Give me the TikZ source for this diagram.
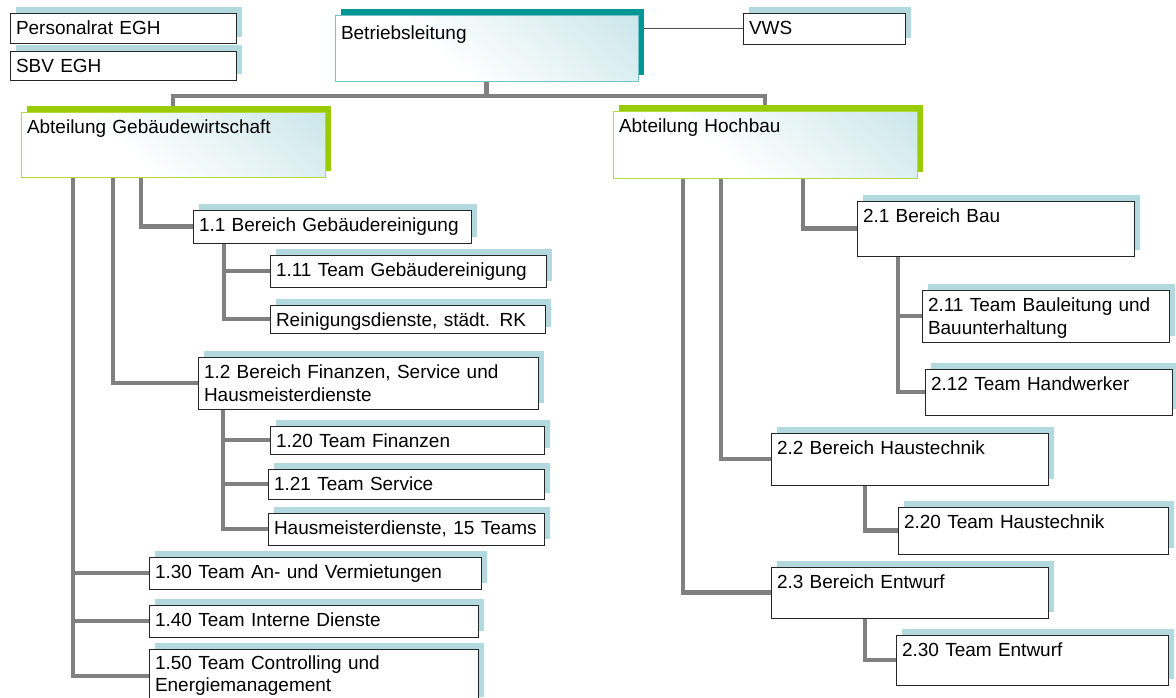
\documentclass[tikz,border=0pt]{standalone}
\usepackage{fontspec}
\setmainfont{Liberation Sans}
\usetikzlibrary{shadows,backgrounds,calc}

\definecolor{lineGray}{RGB}{128,128,128}
\definecolor{shadowTeal}{RGB}{178,218,222}
\definecolor{headTeal}{RGB}{0,150,150}
\definecolor{headGreen}{RGB}{153,204,0}
\definecolor{fillTeal}{RGB}{186,223,228}
\pgfdeclareverticalshading{headshade}{100bp}{color(0bp)=(white); color(40bp)=(white); color(100bp)=(fillTeal)}

\begin{document}
\begin{tikzpicture}[
    x=0.025cm, y=-0.025cm,
    box/.style={rectangle, anchor=north west, align=left, inner xsep=0.15cm, inner ysep=0pt, outer sep=0pt, text height=0.525cm, font=\fontsize{13.5}{16.8}\selectfont, line width=0.6pt},
    unit/.style={box, draw=black!85, fill=white, general shadow={shadow xshift=0.15cm, shadow yshift=0.15cm, fill=shadowTeal}},
    lead/.style={box, draw=headTeal!55, shade, shading=headshade, shading angle=-40, general shadow={shadow xshift=0.15cm, shadow yshift=0.15cm, fill=headTeal}},
    dept/.style={box, draw=headGreen!75, shade, shading=headshade, shading angle=-40, general shadow={shadow xshift=0.15cm, shadow yshift=0.15cm, fill=headGreen}},
    conn/.style={draw=lineGray, line width=3pt},
    link/.style={draw=black!70, line width=0.8pt},
]
\useasboundingbox (0,0) rectangle (1176,697);
\clip (0,0) rectangle (1176,697);

% Top level
\node[unit, text width=5.35cm, text depth=0.225cm] (pers) at (10,13) {Personalrat EGH};
\node[unit, text width=5.35cm, text depth=0.2cm] (sbv) at (10,51) {SBV EGH};
\node[lead, text width=7.275cm, text height=0.6cm, text depth=1.05cm] (betr) at (335,15) {Betriebsleitung};
\node[unit, text width=3.75cm, text depth=0.25cm] (vws) at (743,13) {VWS};

% Departments
\node[dept, text width=7.3cm, text depth=1.1cm] (abtG) at (21,112) {Abteilung Gebäudewirtschaft};
\node[dept, text width=7.3cm, text depth=1.15cm] (abtH) at (613,111) {Abteilung Hochbau};

% Abteilung Gebaeudewirtschaft
\node[unit, text width=6.65cm, text depth=0.3cm] (b11) at (193,210) {1.1 Bereich Gebäudereinigung};
\node[unit, text width=6.6cm, text depth=0.275cm] (t111) at (270,255) {1.11 Team Gebäudereinigung};
\node[unit, text width=6.575cm, text depth=0.175cm] (rein) at (270,305) {Reinigungsdienste, städt. RK};
\node[unit, text width=8.2cm, text depth=0.775cm] (b12) at (198,357) {1.2 Bereich Finanzen, Service und\\Hausmeisterdienste};
\node[unit, text width=6.55cm, text depth=0.175cm] (t120) at (270,426) {1.20 Team Finanzen};
\node[unit, text width=6.6cm, text depth=0.225cm] (t121) at (268,469) {1.21 Team Service};
\node[unit, text width=6.6cm, text depth=0.275cm] (haus) at (268,513) {Hausmeisterdienste, 15 Teams};
\node[unit, text width=8cm, text depth=0.275cm] (t130) at (149,557) {1.30 Team An- und Vermietungen};
\node[unit, text width=7.925cm, text depth=0.275cm] (t140) at (149,605) {1.40 Team Interne Dienste};
\node[unit, text width=7.925cm, text height=0.5cm, text depth=0.85cm, font=\fontsize{13.5}{16}\selectfont] (t150) at (149,649) {1.50 Team Controlling und\\Energiemanagement};

% Abteilung Hochbau
\node[unit, text width=6.625cm, text depth=0.85cm] (b21) at (857,201) {2.1 Bereich Bau};
\node[unit, text width=5.875cm, text depth=0.775cm] (t211) at (922,290) {2.11 Team Bauleitung und\\Bauunterhaltung};
\node[unit, text width=5.875cm, text depth=0.625cm] (t212) at (925,369) {2.12 Team Handwerker};
\node[unit, text width=6.625cm, text depth=0.775cm] (b22) at (771,433) {2.2 Bereich Haustechnik};
\node[unit, text width=6.45cm, text depth=0.65cm] (t220) at (898,507) {2.20 Team Haustechnik};
\node[unit, text width=6.625cm, text depth=0.75cm] (b23) at (771,567) {2.3 Bereich Entwurf};
\node[unit, text width=6.5cm, text depth=0.725cm] (t230) at (896,635) {2.30 Team Entwurf};

\begin{scope}[on background layer]
% Lines - top
\draw[conn] (betr.south) -- ++(0,15) -| (abtG.north);
\draw[conn] (betr.south) -- ++(0,15) -| (abtH.north);
\draw[link] (betr.east |- vws.west) -- (vws.west);

% Lines - Gebaeudewirtschaft
\draw[conn] ([xshift=3cm]abtG.south west) |- (b11.west);
\draw[conn] ([xshift=2.3cm]abtG.south west) |- (b12.west);
\draw[conn] ([xshift=1.3cm]abtG.south west) |- (t130.west);
\draw[conn] ([xshift=1.3cm]abtG.south west) |- (t140.west);
\draw[conn] ([xshift=1.3cm]abtG.south west) |- (t150.west);
\draw[conn] ([xshift=0.775cm]b11.south west) |- (t111.west);
\draw[conn] ([xshift=0.775cm]b11.south west) |- (rein.west);
\draw[conn] ([xshift=0.625cm]b12.south west) |- (t120.west);
\draw[conn] ([xshift=0.625cm]b12.south west) |- (t121.west);
\draw[conn] ([xshift=0.625cm]b12.south west) |- (haus.west);

% Lines - Hochbau
\draw[conn] ([xshift=4.75cm]abtH.south west) |- (b21.west);
\draw[conn] ([xshift=2.7cm]abtH.south west) |- (b22.west);
\draw[conn] ([xshift=1.75cm]abtH.south west) |- (b23.west);
\draw[conn] ([xshift=1.025cm]b21.south west) |- (t211.west);
\draw[conn] ([xshift=1.025cm]b21.south west) |- (t212.west);
\draw[conn] ([xshift=2.35cm]b22.south west) |- (t220.west);
\draw[conn] ([xshift=2.35cm]b23.south west) |- (t230.west);
\end{scope}

\end{tikzpicture}
\end{document}
